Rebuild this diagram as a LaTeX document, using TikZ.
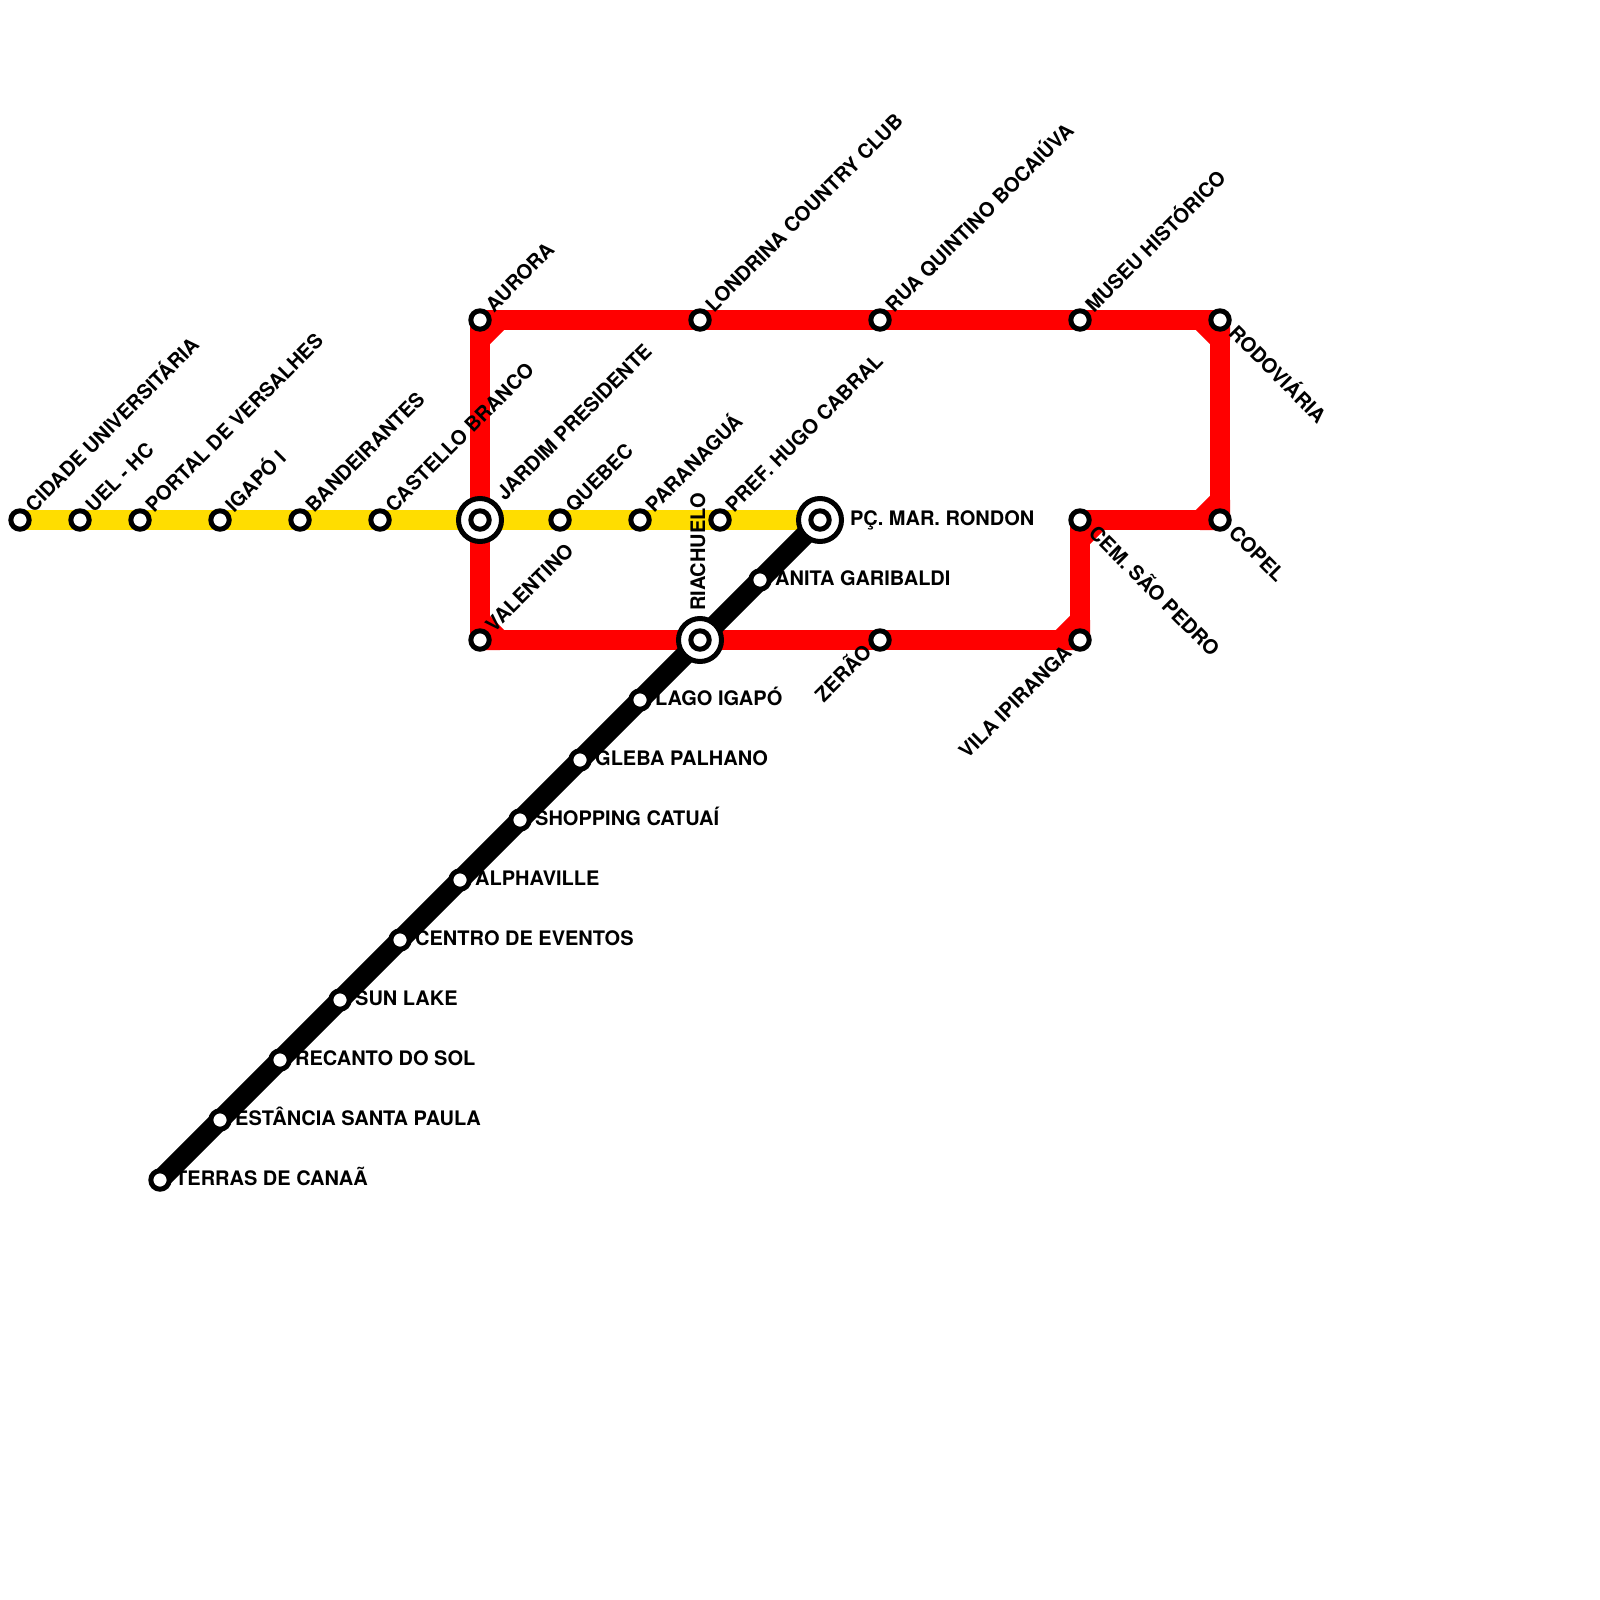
\documentclass[tikz,border=0pt]{standalone}
\usepackage{fontspec}
\setmainfont{TeX Gyre Heros}
\tikzset{
  x=0.5pt,y=-0.5pt,
  redline/.style={draw={rgb,255:red,255;green,0;blue,0},line width=10pt,line join=bevel},
  yellowline/.style={draw={rgb,255:red,255;green,221;blue,0},line width=10pt},
  blackline/.style={draw=black,line width=10pt},
  stn/.style={circle,draw=black,fill=white,line width=2.5pt,minimum size=9.2pt,inner sep=0pt,outer sep=0pt},
  hub/.style={circle,draw=black,fill=white,line width=2.5pt,minimum size=21.5pt,inner sep=0pt,outer sep=0pt},
  lbl/.style={font=\bfseries\fontsize{10}{12}\selectfont,inner sep=0pt,outer sep=0pt,text=black},
  lup/.style={lbl,anchor=base west,xshift=7pt,yshift=3.5pt,rotate=45},
  lhubup/.style={lbl,anchor=base west,xshift=12.5pt,yshift=9.5pt,rotate=45},
  ldown/.style={lbl,anchor=base west,xshift=3.8pt,yshift=-7.3pt,rotate=-45},
  lleft/.style={lbl,anchor=base east,xshift=-3.6pt,yshift=-7pt,rotate=45},
  lright/.style={lbl,anchor=base west,xshift=7.6pt,yshift=-2.7pt},
  lhubright/.style={lbl,anchor=base west,xshift=15pt,yshift=-2.7pt},
  lvert/.style={lbl,anchor=base west,xshift=2.5pt,yshift=14.6pt,rotate=90},
}
\begin{document}
\begin{tikzpicture}
\fill[white] (0,0) rectangle (1600,1600);
\useasboundingbox (0,0) rectangle (1600,1600);
% station positions
\coordinate (cidade) at (20,520);
\coordinate (uel) at (80,520);
\coordinate (portal) at (140,520);
\coordinate (igapo) at (220,520);
\coordinate (band) at (300,520);
\coordinate (castello) at (380,520);
\coordinate (jardim) at (480,520);
\coordinate (quebec) at (560,520);
\coordinate (paran) at (640,520);
\coordinate (pref) at (720,520);
\coordinate (praca) at (820,520);
\coordinate (aurora) at (480,320);
\coordinate (londrina) at (700,320);
\coordinate (quintino) at (880,320);
\coordinate (museu) at (1080,320);
\coordinate (rodov) at (1220,320);
\coordinate (copel) at (1220,520);
\coordinate (cem) at (1080,520);
\coordinate (vila) at (1080,640);
\coordinate (zerao) at (880,640);
\coordinate (riach) at (700,640);
\coordinate (valent) at (480,640);
\coordinate (terras) at (160,1180);
\coordinate (estancia) at (220,1120);
\coordinate (recanto) at (280,1060);
\coordinate (sunlake) at (340,1000);
\coordinate (centro) at (400,940);
\coordinate (alpha) at (460,880);
\coordinate (catuai) at (520,820);
\coordinate (gleba) at (580,760);
\coordinate (lago) at (640,700);
\coordinate (anita) at (760,580);
% chamfer points
\coordinate (c1a) at (480,340); \coordinate (c1b) at (500,320);
\coordinate (c2a) at (1200,320); \coordinate (c2b) at (1220,340);
\coordinate (c3a) at (1220,500); \coordinate (c3b) at (1200,520);
\coordinate (c4a) at (1100,520); \coordinate (c4b) at (1080,540);
\coordinate (c5a) at (1080,620); \coordinate (c5b) at (1060,640);
\coordinate (c6a) at (500,640); \coordinate (c6b) at (480,620);
% red line
\draw[redline] (valent) -- (aurora) -- (rodov) -- (copel) -- (cem) -- (vila) -- (valent);
\foreach \s/\a/\b in {aurora/c1a/c1b,rodov/c2a/c2b,copel/c3a/c3b,cem/c4a/c4b,vila/c5a/c5b,valent/c6a/c6b}
  \draw[redline] (\s) -- (\a) -- (\b) -- cycle;
% yellow line
\draw[yellowline] (cidade) -- (praca);
% black line
\draw[blackline] (terras) -- (praca);
% stations
\foreach \s in {cidade,uel,portal,igapo,band,castello,quebec,paran,pref,aurora,londrina,quintino,museu,rodov,copel,cem,vila,zerao,valent,terras,estancia,recanto,sunlake,centro,alpha,catuai,gleba,lago,anita}
  \node[stn] (n\s) at (\s) {};
\foreach \s in {jardim,riach,praca}{
  \node[hub] (h\s) at (\s) {};
  \node[stn] (n\s) at (\s) {};
}
% labels
\node[lup] (t1) at (cidade) {CIDADE UNIVERSITÁRIA};
\node[lup] (t2) at (uel) {UEL - HC};
\node[lup] (t3) at (portal) {PORTAL DE VERSALHES};
\node[lup] (t4) at (igapo) {IGAPÓ I};
\node[lup] (t5) at (band) {BANDEIRANTES};
\node[lup] (t6) at (castello) {CASTELLO BRANCO};
\node[lhubup] (t7) at (jardim) {JARDIM PRESIDENTE};
\node[lup] (t8) at (quebec) {QUEBEC};
\node[lup] (t9) at (paran) {PARANAGUÁ};
\node[lup] (t10) at (pref) {PREF. HUGO CABRAL};
\node[lhubright] (t11) at (praca) {PÇ. MAR. RONDON};
\node[lup] (t12) at (aurora) {AURORA};
\node[lup] (t13) at (londrina) {LONDRINA COUNTRY CLUB};
\node[lup] (t14) at (quintino) {RUA QUINTINO BOCAIÚVA};
\node[lup] (t15) at (museu) {MUSEU HISTÓRICO};
\node[ldown] (t16) at (rodov) {RODOVIÁRIA};
\node[ldown] (t17) at (copel) {COPEL};
\node[ldown] (t18) at (cem) {CEM. SÃO PEDRO};
\node[lleft] (t19) at (vila) {VILA IPIRANGA};
\node[lleft] (t20) at (zerao) {ZERÃO};
\node[lvert] (t21) at (riach) {RIACHUELO};
\node[lup] (t22) at (valent) {VALENTINO};
\node[lright] (t23) at (anita) {ANITA GARIBALDI};
\node[lright] (t24) at (lago) {LAGO IGAPÓ};
\node[lright] (t25) at (gleba) {GLEBA PALHANO};
\node[lright] (t26) at (catuai) {SHOPPING CATUAÍ};
\node[lright] (t27) at (alpha) {ALPHAVILLE};
\node[lright] (t28) at (centro) {CENTRO DE EVENTOS};
\node[lright] (t29) at (sunlake) {SUN LAKE};
\node[lright] (t30) at (recanto) {RECANTO DO SOL};
\node[lright] (t31) at (estancia) {ESTÂNCIA SANTA PAULA};
\node[lright] (t32) at (terras) {TERRAS DE CANAÃ};
\end{tikzpicture}
\end{document}
